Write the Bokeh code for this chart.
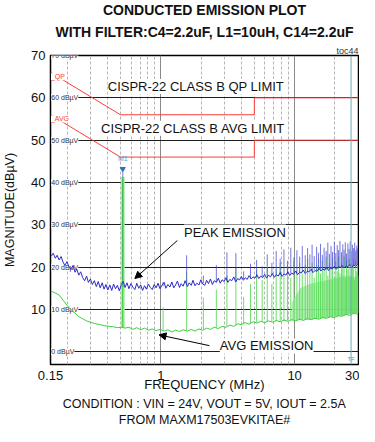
from bokeh.plotting import figure
from bokeh.models import FixedTicker, Title, Arrow, NormalHead, Span, Label
from bokeh.core.properties import value
from bokeh.embed import file_html
from bokeh.resources import INLINE

FONT = "Liberation Sans"

# ---------------- data ----------------
# Peak emission (blue) trace
peak_freq = [0.152, 0.157, 0.163, 0.168, 0.174, 0.180, 0.186, 0.192, 0.199, 0.206,
             0.214, 0.221, 0.229, 0.236, 0.244, 0.252, 0.261, 0.270, 0.279, 0.288,
             0.298, 0.308, 0.319, 0.330, 0.341, 0.353, 0.365, 0.377, 0.389, 0.402,
             0.416, 0.430, 0.444, 0.459, 0.474, 0.490, 0.507, 0.524, 0.541, 0.559,
             0.578, 0.598, 0.618, 0.640, 0.662, 0.684, 0.707, 0.731, 0.756, 0.781,
             0.808, 0.835, 0.863, 0.893, 0.923, 0.954, 0.987, 1.02, 1.06, 1.09,
             1.13, 1.17, 1.21, 1.25, 1.29, 1.33, 1.38, 1.42, 1.47, 1.52,
             1.58, 1.63, 1.69, 1.74, 1.80, 1.86, 1.93, 1.99, 2.06, 2.13,
             2.20, 2.27, 2.35, 2.43, 2.51, 2.60, 2.69, 2.78, 2.87, 2.97,
             3.07, 3.17, 3.28, 3.39, 3.51, 3.63, 3.75, 3.88, 4.00, 4.14,
             4.28, 4.42, 4.57, 4.73, 4.89, 5.05, 5.22, 5.40, 5.58, 5.77,
             5.97, 6.17, 6.38, 6.60, 6.82, 7.05, 7.29, 7.54, 7.79, 8.06,
             8.33, 8.61, 8.90, 9.20, 9.51, 9.84, 10.2, 10.5, 10.9, 11.2,
             11.6, 12.0, 12.4, 12.8, 13.3, 13.7, 14.2, 14.7, 15.2, 15.7,
             16.2, 16.8, 17.3, 17.9, 18.5, 19.2, 19.8, 20.5, 21.2, 21.9,
             22.6, 23.4, 24.2, 25.0, 25.9, 26.7, 27.6, 28.6, 29.6]
peak_db = [22.6, 23.3, 22.1, 22.8, 21.7, 22.5, 21.2, 20.4, 21.3, 20.1,
           19.6, 20.4, 18.8, 19.5, 18.1, 18.9, 17.5, 16.8, 17.9, 16.4,
           17.2, 15.9, 16.8, 15.4, 16.6, 15.1, 16.3, 14.8, 15.9, 14.6,
           15.8, 14.5, 16.0, 14.9, 15.7, 14.4, 15.9, 16.6, 15.2, 16.3,
           14.9, 16.1, 15.3, 14.7, 16.2, 15.0, 15.8, 14.5, 15.6, 14.8,
           16.0, 15.2, 14.7, 15.9, 15.1, 16.2, 14.9, 15.7, 16.4, 15.0,
           15.9, 15.3, 16.5, 15.1, 15.8, 16.7, 15.2, 16.1, 15.5, 16.8,
           15.4, 16.3, 15.7, 16.9, 15.6, 16.2, 15.8, 17.0, 16.0, 15.7,
           16.9, 16.1, 17.2, 15.9, 16.8, 16.4, 17.4, 16.2, 17.0, 16.6,
           17.5, 16.4, 17.1, 16.8, 17.7, 16.5, 17.3, 17.0, 17.8, 16.9,
           17.5, 17.1, 18.0, 17.2, 17.7, 17.4, 18.2, 17.3, 17.9, 17.5,
           18.3, 17.4, 18.1, 17.7, 18.5, 17.6, 18.2, 17.9, 18.7, 17.8,
           18.4, 18.1, 18.9, 18.0, 18.6, 18.3, 19.1, 18.2, 18.8, 18.6,
           19.3, 18.5, 19.0, 18.9, 19.5, 18.7, 19.2, 19.0, 19.7, 19.1,
           19.5, 19.3, 20.0, 19.2, 19.8, 19.6, 20.2, 19.5, 20.1, 19.9,
           20.4, 19.8, 20.3, 20.1, 20.6, 19.9, 20.5, 20.2, 20.7]

# Average emission (green) trace
avg_freq = [0.152, 0.163, 0.174, 0.186, 0.199, 0.214, 0.229, 0.244, 0.261, 0.279,
            0.298, 0.319, 0.341, 0.365, 0.389, 0.416, 0.444, 0.474, 0.507, 0.541,
            0.578, 0.618, 0.662, 0.707, 0.756, 0.808, 0.863, 0.923, 0.987, 1.06,
            1.13, 1.21, 1.29, 1.38, 1.47, 1.58, 1.69, 1.80, 1.93, 2.06,
            2.20, 2.35, 2.51, 2.69, 2.87, 3.07, 3.28, 3.51, 3.75, 4.00,
            4.28, 4.57, 4.89, 5.22, 5.58, 5.97, 6.38, 6.82, 7.29, 7.79,
            8.33, 8.90, 9.51, 10.2, 10.9, 11.6, 12.4, 13.3, 14.2, 15.2,
            16.2, 17.3, 18.5, 19.8, 21.2, 22.6, 24.2, 25.9, 27.6, 29.6]
avg_db = [14.3, 13.9, 13.4, 12.2, 11.0, 9.9, 9.1, 8.3, 7.8, 7.3,
          7.0, 6.7, 6.5, 6.3, 6.1, 6.0, 5.9, 5.7, 5.8, 5.6,
          5.8, 5.3, 5.7, 5.2, 5.6, 5.1, 5.4, 5.0, 5.3, 4.9,
          5.2, 4.7, 5.1, 4.8, 5.2, 4.9, 5.3, 4.9, 5.4, 5.1,
          5.6, 5.3, 5.8, 5.5, 6.0, 5.8, 6.3, 6.0, 6.6, 6.4,
          6.9, 6.5, 7.1, 6.8, 7.2, 6.9, 7.3, 7.0, 7.4, 7.1,
          7.5, 7.2, 7.6, 7.3, 7.7, 7.4, 7.8, 7.6, 7.9, 7.7,
          8.1, 7.9, 8.3, 8.1, 8.5, 8.4, 8.8, 8.6, 9.1, 8.9]

# dense light-green band of the average trace above ~10 MHz
band_freq = [9.5, 11.0, 13.0, 15.0, 18.0, 21.0, 24.0, 27.0, 30.0]
band_base = [7.4, 7.5, 7.7, 7.8, 8.1, 8.4, 8.7, 9.0, 9.2]
band_top = [11.5, 15.0, 16.0, 16.5, 17.0, 17.5, 18.0, 17.5, 18.0]

# Switching fundamental (marker M1)
fund_freq = [0.52]
fund_peak_base = [15.3]
fund_peak_top = [42.5]
fund_avg_base = [5.7]
fund_avg_top = [41.3]

# Harmonic spikes
harm_freq = [1.04, 1.56, 2.08, 2.60, 3.12, 3.64, 4.16, 4.68, 5.20, 5.72,
             6.24, 6.76, 7.28, 7.80, 8.32, 8.84, 9.36, 9.88, 10.4, 10.9,
             11.4, 12.0, 12.5, 13.0, 13.5, 14.0, 14.6, 15.1, 15.6, 16.1,
             16.6, 17.2, 17.7, 18.2, 18.7, 19.2, 19.8, 20.3, 20.8, 21.3,
             21.8, 22.4, 22.9, 23.4, 23.9, 24.4, 25.0, 25.5, 26.0, 26.5,
             27.0, 27.6, 28.1, 28.6, 29.1, 29.6]
harm_avg_base = [5.0, 5.0, 5.3, 5.8, 6.1, 6.3, 6.6, 6.8, 7.0, 7.1,
                 7.1, 7.2, 7.2, 7.3, 7.3, 7.4, 7.4, 7.5, 7.5, 7.5,
                 7.6, 7.6, 7.7, 7.7, 7.8, 7.8, 7.8, 7.9, 7.9, 8.0,
                 8.0, 8.1, 8.1, 8.2, 8.2, 8.3, 8.3, 8.4, 8.4, 8.5,
                 8.5, 8.6, 8.6, 8.7, 8.7, 8.8, 8.8, 8.9, 8.9, 9.0,
                 9.0, 9.0, 9.1, 9.1, 9.2, 9.2]
harm_avg_top = [10.5, 18.8, 12.8, 14.7, 18.1, 19.8, 13.0, 16.0, 19.3, 17.0,
                20.0, 16.0, 19.5, 21.0, 18.0, 20.5, 17.5, 21.5, 19.0, 21.0,
                18.5, 20.5, 22.0, 19.0, 21.0, 17.5, 20.5, 22.0, 18.5, 21.5,
                19.5, 22.5, 18.0, 21.0, 20.0, 22.0, 17.5, 21.5, 19.0, 22.5,
                18.5, 21.0, 20.0, 22.5, 17.5, 21.5, 19.5, 22.0, 18.0, 21.0,
                20.5, 22.0, 17.0, 21.5, 19.0, 20.5]
harm_peak_base = [15.5, 15.8, 16.2, 16.5, 16.8, 17.0, 17.2, 17.4, 17.6, 17.7,
                  17.9, 18.0, 18.1, 18.2, 18.3, 18.4, 18.5, 18.6, 18.7, 18.8,
                  18.8, 18.9, 19.0, 19.0, 19.1, 19.2, 19.2, 19.3, 19.4, 19.4,
                  19.5, 19.5, 19.6, 19.6, 19.7, 19.7, 19.8, 19.8, 19.9, 19.9,
                  20.0, 20.0, 20.1, 20.1, 20.2, 20.2, 20.3, 20.3, 20.3, 20.4,
                  20.4, 20.5, 20.5, 20.5, 20.6, 20.6]
harm_peak_top = [16.5, 22.8, 18.0, 20.5, 23.5, 23.3, 19.0, 20.8, 21.7, 20.2,
                 23.0, 21.0, 23.8, 22.0, 24.2, 21.5, 24.6, 22.3, 24.0, 22.5,
                 25.0, 22.8, 24.5, 23.0, 25.3, 22.6, 24.8, 23.4, 25.5, 22.9,
                 24.6, 23.8, 25.8, 23.1, 25.0, 23.6, 26.0, 23.3, 25.2, 24.0,
                 26.2, 23.5, 25.4, 24.1, 25.9, 23.2, 25.6, 24.3, 26.1, 23.8,
                 25.3, 24.5, 25.8, 23.9, 25.1, 24.4]

# CISPR-22 class B limits
qp_freq = [0.15, 0.5, 5.0, 5.0, 30.0]
qp_db = [66, 56, 56, 60, 60]
avl_freq = [0.15, 0.5, 5.0, 5.0, 30.0]
avl_db = [56, 46, 46, 50, 50]

x_ticks = [0.15, 1, 10, 30]
x_tick_labels = ["0.15", "1", "10", "30"]
x_minor = [0.2, 0.3, 0.4, 0.5, 0.6, 0.7, 0.8, 0.9, 2, 3, 4, 5, 6, 7, 8, 9, 20]
y_ticks = [10, 20, 30, 40, 50, 60, 70]
ref_levels = [0, 10, 20, 30, 40, 50, 60, 70]
ref_labels = ["0 dBµV", "10 dBµV", "20 dBµV", "30 dBµV", "40 dBµV", "50 dBµV", "60 dBµV", "70 dBµV"]
tf_freq = 26.4

# ---------------- figure ----------------
p = figure(width=359, height=426, x_axis_type="log", x_range=(0.15, 30), y_range=(-3, 70),
           output_backend="svg", toolbar_location=None,
           min_border_left=48, min_border_right=1, min_border_top=0, min_border_bottom=0,
           background_fill_color="white", border_fill_color="white")

p.outline_line_color = "black"
p.outline_line_width = 1.5

# titles (above: nearest first)
p.add_layout(Title(text="toc44", align="right", text_font=FONT, text_font_size="9px",
                   text_font_style="normal", text_color="#333333", standoff=0), "above")
p.add_layout(Title(text="WITH FILTER:C4=2.2uF, L1=10uH, C14=2.2uF", align="center", text_font=FONT,
                   text_font_size="14px", text_font_style="bold", text_color="#111111", standoff=8), "above")
p.add_layout(Title(text="CONDUCTED EMISSION PLOT", align="center", text_font=FONT,
                   text_font_size="14px", text_font_style="bold", text_color="#111111", standoff=-1), "above")

# axes
p.xaxis.ticker = FixedTicker(ticks=x_ticks, minor_ticks=x_minor)
p.xaxis.major_label_overrides = dict(zip(x_ticks, x_tick_labels))
p.yaxis.ticker = FixedTicker(ticks=y_ticks)
for ax in (p.xaxis, p.yaxis):
    ax.axis_line_color = None
    ax.major_tick_line_color = None
    ax.minor_tick_line_color = None
    ax.major_tick_out = 0
    ax.major_tick_in = 0
    ax.minor_tick_out = 0
    ax.minor_tick_in = 0
    ax.major_label_text_font = FONT
    ax.major_label_text_font_size = "13px"
    ax.major_label_text_color = "#111111"
    ax.axis_label_text_font = FONT
    ax.axis_label_text_font_size = "13px"
    ax.axis_label_text_font_style = "normal"
    ax.axis_label_text_color = "#111111"
p.xaxis.axis_label = "FREQUENCY (MHz)"
p.yaxis.axis_label = "MAGNITUDE(dBµV)"
p.yaxis.axis_label_text_font_size = "12.5px"
p.xaxis.major_label_standoff = 6
p.xaxis.axis_label_standoff = -6
p.yaxis.major_label_standoff = 5
p.yaxis.axis_label_standoff = 11

p.add_layout(Title(text="CONDITION : VIN = 24V, VOUT = 5V, IOUT = 2.5A", align="center", text_font=FONT,
                   text_font_size="12.5px", text_font_style="normal", text_color="#111111", standoff=0), "below")
p.add_layout(Title(text="FROM MAXM17503EVKITAE#", align="center", text_font=FONT,
                   text_font_size="12.5px", text_font_style="normal", text_color="#111111", standoff=0), "below")

# grids
p.xgrid.ticker = FixedTicker(ticks=[1, 10], minor_ticks=x_minor)
p.xgrid.grid_line_color = "#8a8a8a"
p.xgrid.grid_line_width = 1
p.xgrid.minor_grid_line_color = "#b4b4b4"
p.xgrid.minor_grid_line_dash = "3 2"
p.ygrid.ticker = FixedTicker(ticks=ref_levels[:-1])
p.ygrid.grid_line_color = "#1e1e1e"
p.ygrid.grid_line_width = 1

# TF marker line
p.add_layout(Span(location=tf_freq, dimension="height", line_color="#6aaabb", line_width=1))

# reference level labels
p.text(x=[0.152] * len(ref_levels), y=ref_levels, text=ref_labels, text_font=value(FONT),
       text_font_size="7px", text_color="#333333", text_baseline="middle", text_align="left",
       background_fill_color="white")

# limits
p.line(qp_freq, qp_db, line_color="#ff3b3b", line_width=1)
p.line(avl_freq, avl_db, line_color="#ff3b3b", line_width=1)
p.text(x=[0.151, 0.151], y=[65.0, 55.0], text=["_QP", "_AVG"], text_font=value(FONT),
       text_font_size="7px", text_color="#ff3b3b", text_baseline="middle", text_align="left",
       background_fill_color="white")

# dense band + spikes
p.varea(x=band_freq, y1=band_base, y2=band_top, fill_color="#a8eca8", fill_alpha=0.9)
p.segment(x0=fund_freq, y0=fund_avg_base, x1=fund_freq, y1=fund_avg_top,
          line_color="#a6f0a6", line_width=4)
p.segment(x0=harm_freq, y0=harm_avg_base, x1=harm_freq, y1=harm_avg_top,
          line_color="#52d852", line_width=1, line_alpha=0.85)
p.segment(x0=harm_freq, y0=harm_peak_base, x1=harm_freq, y1=harm_peak_top,
          line_color="#4646d2", line_width=1, line_alpha=0.75)
p.segment(x0=fund_freq, y0=fund_peak_base, x1=fund_freq, y1=fund_peak_top,
          line_color="#5a5ad8", line_width=1, line_alpha=0.8)
p.segment(x0=fund_freq, y0=fund_avg_base, x1=fund_freq, y1=fund_avg_top,
          line_color="#33c933", line_width=1)

# traces
p.line(avg_freq, avg_db, line_color="#3ccf3c", line_width=1)
p.line(peak_freq, peak_db, line_color="#2a2ac6", line_width=1)

# marker M1
p.scatter(x=fund_freq, y=[43.2], marker="inverted_triangle", size=5, color="#2a6fd0")
p.text(x=fund_freq, y=[45.6], text=["M1"], text_font=value(FONT), text_font_size="7px",
       text_color="#4aa3d8", text_align="center", text_baseline="middle")
p.text(x=[tf_freq], y=[-1.8], text=["TF"], text_font=value(FONT), text_font_size="6px",
       text_color="#4a9ab0", text_align="center", text_baseline="middle")

# annotations inside the plot
lab_kw = dict(text_font=FONT, text_font_size="13px", text_color="#111111", text_align="center",
              text_baseline="middle", background_fill_color="white")
p.add_layout(Label(x=1.83, y=62.7, text="CISPR-22 CLASS B QP LIMIT", **lab_kw))
p.add_layout(Label(x=1.74, y=52.8, text="CISPR-22 CLASS B AVG LIMIT", **lab_kw))
p.add_layout(Label(x=3.58, y=28.3, text="PEAK EMISSION", **lab_kw))
p.add_layout(Label(x=6.18, y=1.4, text="AVG EMISSION", **lab_kw))

p.add_layout(Arrow(end=NormalHead(size=7, fill_color="black", line_color="black"),
                   x_start=1.33, y_start=26.3, x_end=0.64, y_end=17.3, line_width=1))
p.add_layout(Arrow(end=NormalHead(size=7, fill_color="black", line_color="black"),
                   x_start=2.31, y_start=1.45, x_end=0.97, y_end=4.0, line_width=1))

open("out.html", "w").write(file_html(p, INLINE))
